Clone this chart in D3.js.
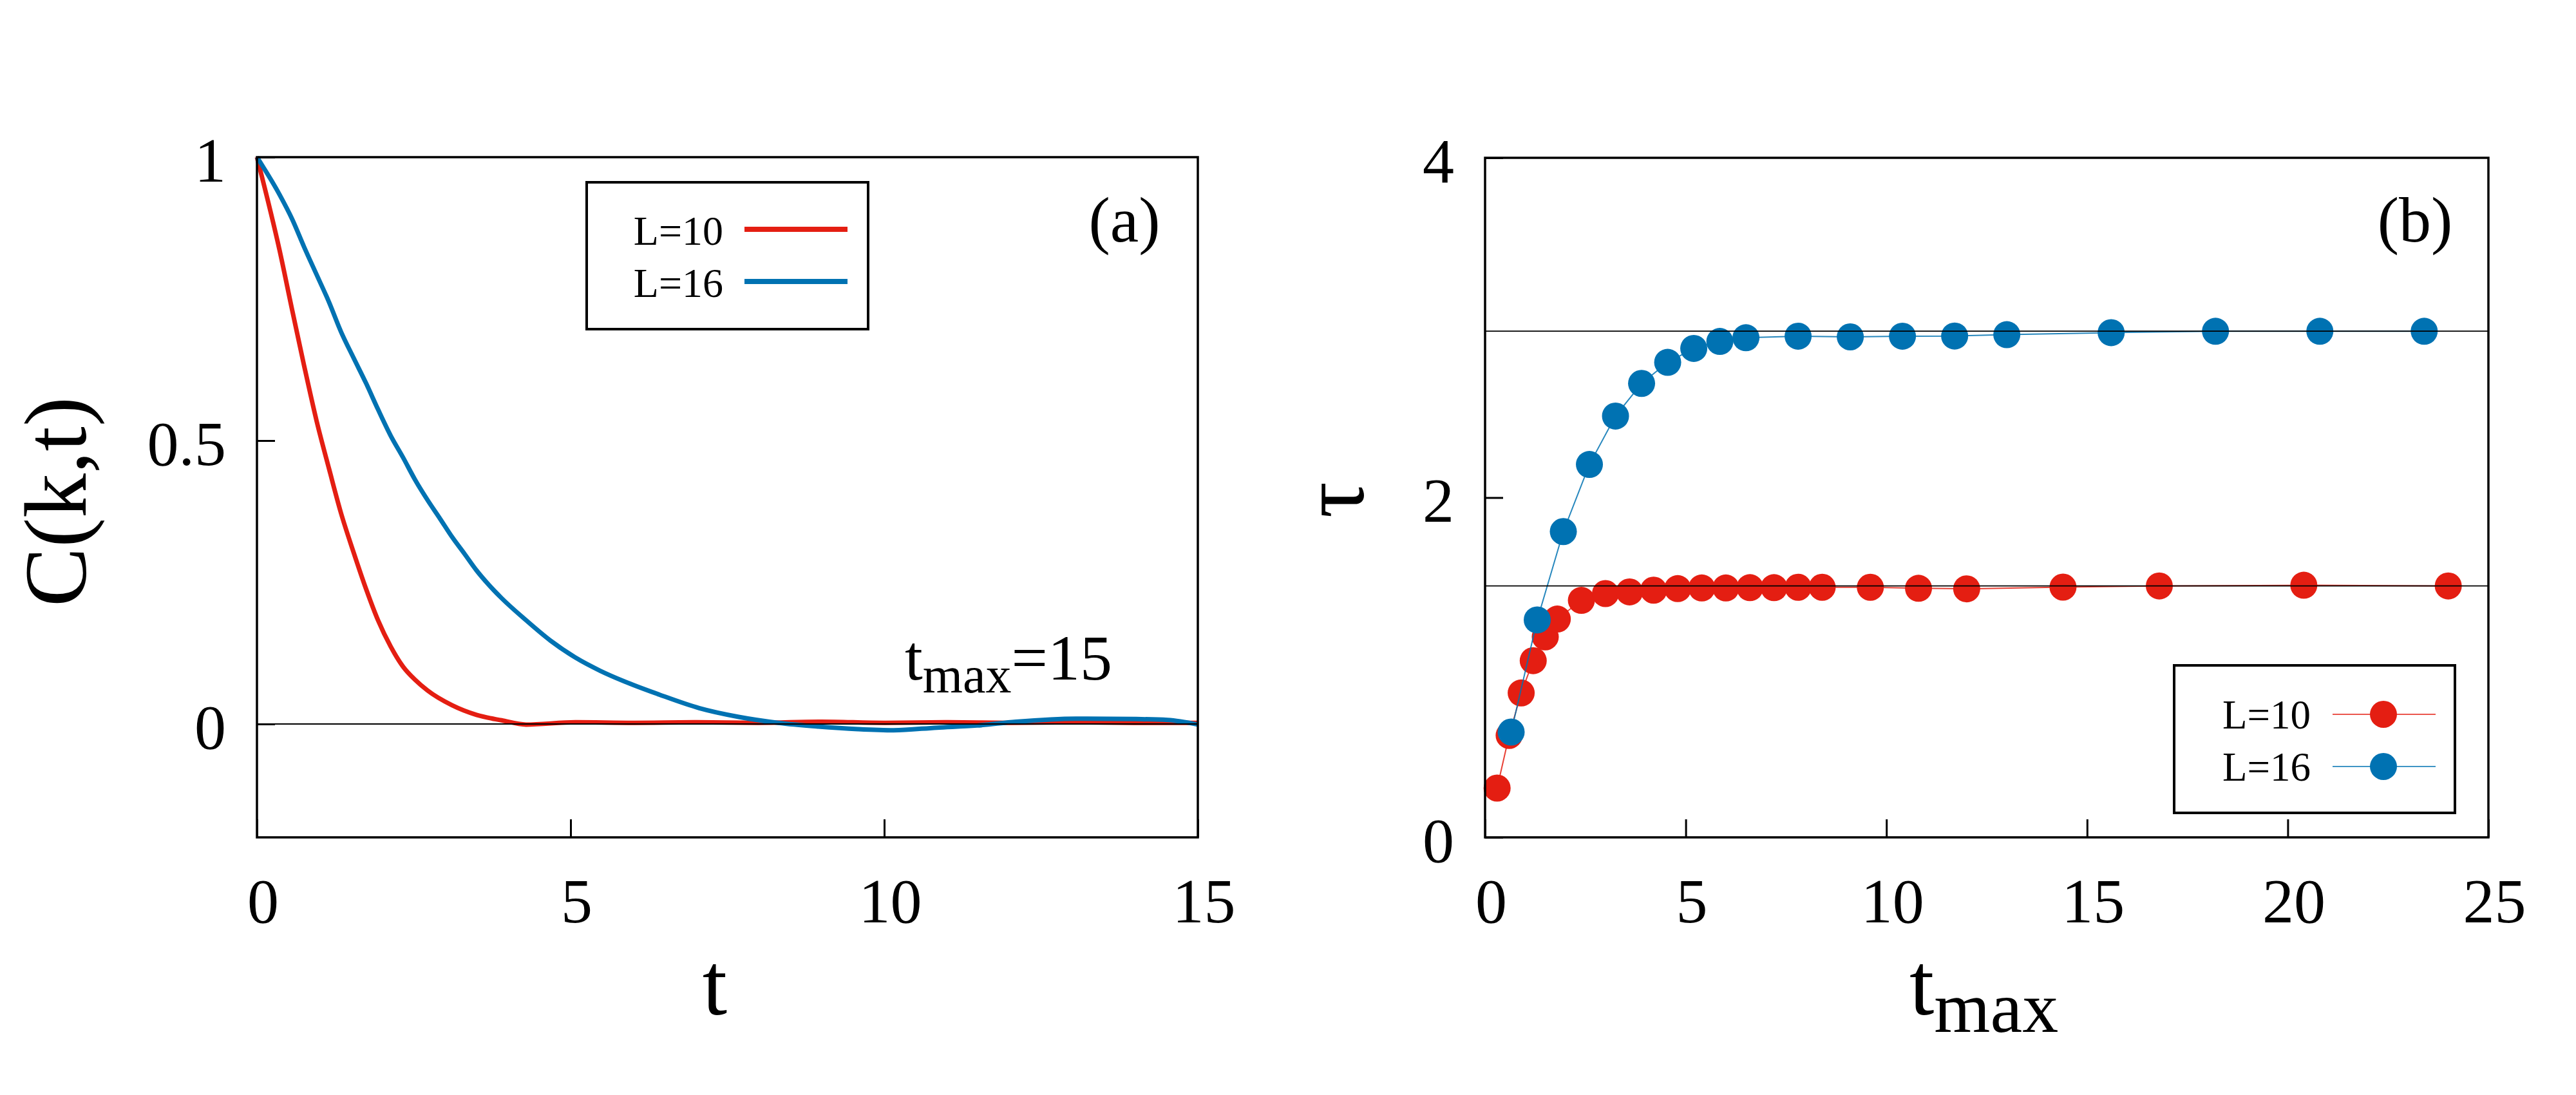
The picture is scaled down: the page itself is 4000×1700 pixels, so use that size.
<!DOCTYPE html>
<html>
<head>
<meta charset="utf-8">
<script src="https://cdn.jsdelivr.net/npm/d3@7"></script>
<style>
  html, body { margin: 0; padding: 0; background: #fff; }
  svg { display: block; }
  svg text { font-family: 'Liberation Serif', 'Times New Roman', serif !important; fill: #000; }
</style>
</head>
<body>
<svg id="chart" width="4000" height="1700" font-family="'Liberation Serif', serif"></svg>
<script>
// ---------------- DATA ----------------
const seriesNames = ["L=10", "L=16"];
const seriesColors = ["#e41e12", "#0072b2"];

// Panel (a): C(k,t) vs t
const tL10 = [0, 0.36, 0.56, 0.75, 0.95, 1.15, 1.34, 1.54, 1.74, 1.93, 2.13, 2.33, 2.52, 2.72, 3.11, 3.50, 3.90, 4.29, 5.08, 6.0, 7.0, 8.0, 9.0, 10.0, 11.0, 12.0, 13.0, 14.0, 15.0];
const cL10 = [1, 0.836, 0.731, 0.633, 0.535, 0.450, 0.372, 0.303, 0.238, 0.183, 0.137, 0.101, 0.078, 0.059, 0.033, 0.016, 0.0065, -0.001, 0.003, 0.002, 0.003, 0.002, 0.004, 0.002, 0.003, 0.002, 0.003, 0.002, 0.002];
const tL16 = [0, 0.36, 0.56, 0.75, 0.95, 1.15, 1.34, 1.54, 1.74, 1.93, 2.13, 2.33, 2.52, 2.72, 2.92, 3.11, 3.31, 3.50, 3.70, 3.90, 4.29, 4.68, 5.08, 5.47, 5.86, 6.41, 7.05, 7.68, 8.31, 8.95, 9.58, 10.15, 10.84, 11.48, 12.1, 13.06, 14.0, 14.52, 15.0];
const cL16 = [1, 0.934, 0.891, 0.842, 0.793, 0.744, 0.692, 0.646, 0.601, 0.555, 0.509, 0.470, 0.431, 0.395, 0.362, 0.330, 0.300, 0.271, 0.245, 0.222, 0.183, 0.147, 0.117, 0.094, 0.075, 0.052, 0.028, 0.0125, 0.002, -0.0045, -0.009, -0.011, -0.0064, -0.0027, 0.004, 0.0095, 0.0087, 0.007, -0.001];

// Panel (b): tau vs t_max
const tmaxL10 = [0.3, 0.6, 0.9, 1.2, 1.5, 1.8, 2.4, 3.0, 3.6, 4.2, 4.8, 5.4, 6.0, 6.6, 7.2, 7.8, 8.4, 9.6, 10.8, 12.0, 14.4, 16.8, 20.4, 24.0];
const tauL10  = [0.29, 0.60, 0.85, 1.04, 1.18, 1.285, 1.395, 1.435, 1.445, 1.455, 1.464, 1.468, 1.468, 1.470, 1.470, 1.472, 1.472, 1.472, 1.466, 1.463, 1.473, 1.480, 1.484, 1.480];
const tmaxL16 = [0.65, 1.3, 1.95, 2.6, 3.25, 3.9, 4.55, 5.2, 5.85, 6.5, 7.8, 9.1, 10.4, 11.7, 13.0, 15.6, 18.2, 20.8, 23.4];
const tauL16  = [0.62, 1.28, 1.80, 2.195, 2.48, 2.672, 2.796, 2.878, 2.919, 2.941, 2.950, 2.946, 2.950, 2.951, 2.959, 2.971, 2.979, 2.979, 2.979];
const tauInf = [1.48, 2.98];   // horizontal reference lines (L=10, L=16)

// Axes
const xDomainA = [0, 15], yDomainA = [-0.2, 1];
const xTicksA = [0, 5, 10, 15], yTicksA = [0, 0.5, 1];
const xDomainB = [0, 25], yDomainB = [0, 4];
const xTicksB = [0, 5, 10, 15, 20, 25], yTicksB = [0, 2, 4];

// ---------------- DRAW ----------------
const FONT = "'Liberation Serif', 'Times New Roman', serif";
const svg = d3.select("#chart");
svg.append("rect").attr("width", 4000).attr("height", 1700).attr("fill", "#fff");

const frameA = {x0: 399, x1: 1860, y0: 244, y1: 1300};
const frameB = {x0: 2306, x1: 3864, y0: 245, y1: 1300};

const xA = d3.scaleLinear().domain(xDomainA).range([frameA.x0, frameA.x1]);
const yA = d3.scaleLinear().domain(yDomainA).range([frameA.y1, frameA.y0]);
const xB = d3.scaleLinear().domain(xDomainB).range([frameB.x0, frameB.x1]);
const yB = d3.scaleLinear().domain(yDomainB).range([frameB.y1, frameB.y0]);

const tickFont = 98;

function drawAxes(x, y, frame, xt, yt) {
  const gx = svg.append("g").attr("transform", `translate(0,${frame.y1})`)
    .call(d3.axisBottom(x).tickValues(xt).tickSizeInner(-28).tickSizeOuter(0).tickFormat(d => String(d)));
  gx.attr("font-family", FONT).attr("font-size", tickFont);
  gx.select(".domain").remove();
  gx.selectAll(".tick line").attr("stroke", "#000").attr("stroke-width", 3);
  gx.selectAll(".tick text").attr("y", 132).attr("dy", null).attr("dx", 9)
    .attr("font-family", FONT).attr("font-size", tickFont).attr("fill", "#000");

  const gy = svg.append("g").attr("transform", `translate(${frame.x0},0)`)
    .call(d3.axisLeft(y).tickValues(yt).tickSizeInner(-28).tickSizeOuter(0).tickFormat(d => String(d)));
  gy.attr("font-family", FONT).attr("font-size", tickFont);
  gy.select(".domain").remove();
  gy.selectAll(".tick line").attr("stroke", "#000").attr("stroke-width", 3);
  gy.selectAll(".tick text").attr("x", -48).attr("dy", 37).attr("text-anchor", "end")
    .attr("font-family", FONT).attr("font-size", tickFont).attr("fill", "#000");
}

function drawFrame(frame) {
  svg.append("rect").attr("x", frame.x0).attr("y", frame.y0)
    .attr("width", frame.x1 - frame.x0).attr("height", frame.y1 - frame.y0)
    .attr("fill", "none").attr("stroke", "#000").attr("stroke-width", 3.5);
}

// ---- Panel (a) ----
drawAxes(xA, yA, frameA, xTicksA, yTicksA);
const lineA = d3.line().x(d => xA(d[0])).y(d => yA(d[1])).curve(d3.curveMonotoneX);
const seriesA = [d3.zip(tL10, cL10), d3.zip(tL16, cL16)];
seriesA.forEach((s, i) => {
  svg.append("path").datum(s).attr("d", lineA).attr("fill", "none")
    .attr("stroke", seriesColors[i]).attr("stroke-width", 7).attr("stroke-linejoin", "round");
});
// zero line
svg.append("line").attr("x1", xA(xDomainA[0])).attr("x2", xA(xDomainA[1]))
  .attr("y1", yA(0)).attr("y2", yA(0)).attr("stroke", "#000").attr("stroke-width", 1.8);
drawFrame(frameA);

// legend (a)
svg.append("rect").attr("x", 911).attr("y", 283).attr("width", 437).attr("height", 228)
  .attr("fill", "#fff").attr("stroke", "#000").attr("stroke-width", 4);
seriesNames.forEach((n, i) => {
  const yy = [356, 437][i];
  svg.append("text").attr("x", 1123).attr("y", yy + 24).attr("text-anchor", "end")
    .attr("font-size", 64).text(n);
  svg.append("line").attr("x1", 1156).attr("x2", 1316).attr("y1", yy).attr("y2", yy)
    .attr("stroke", seriesColors[i]).attr("stroke-width", 8);
});
svg.append("text").attr("x", 1746).attr("y", 375).attr("text-anchor", "middle")
  .attr("font-size", 100).text("(a)");
const tm = svg.append("text").attr("x", 1405).attr("y", 1055).attr("font-size", 100);
tm.append("tspan").text("t");
tm.append("tspan").attr("dy", 20).attr("font-size", 80).text("max");
tm.append("tspan").attr("dy", -20).text("=15");

// axis labels (a)
svg.append("text").attr("transform", "translate(133,779) rotate(-90)").attr("text-anchor", "middle")
  .attr("font-size", 138).text("C(k,t)");
svg.append("text").attr("x", 1110).attr("y", 1575).attr("text-anchor", "middle")
  .attr("font-size", 138).text("t");

// ---- Panel (b) ----
drawAxes(xB, yB, frameB, xTicksB, yTicksB);
const lineB = d3.line().x(d => xB(d[0])).y(d => yB(d[1]));
const seriesB = [d3.zip(tmaxL10, tauL10), d3.zip(tmaxL16, tauL16)];
seriesB.forEach((s, i) => {
  const g = svg.append("g");
  g.append("path").datum(s).attr("d", lineB).attr("fill", "none")
    .attr("stroke", seriesColors[i]).attr("stroke-width", 2).attr("stroke-opacity", 0.85);
  g.selectAll("circle").data(s).enter().append("circle")
    .attr("cx", d => xB(d[0])).attr("cy", d => yB(d[1])).attr("r", 21)
    .attr("fill", seriesColors[i]);
});
// reference lines
tauInf.forEach(v => {
  svg.append("line").attr("x1", xB(xDomainB[0])).attr("x2", xB(xDomainB[1]))
    .attr("y1", yB(v)).attr("y2", yB(v)).attr("stroke", "#000").attr("stroke-width", 1.8);
});
drawFrame(frameB);

// legend (b)
svg.append("rect").attr("x", 3376).attr("y", 1033).attr("width", 436).attr("height", 229)
  .attr("fill", "#fff").attr("stroke", "#000").attr("stroke-width", 4);
seriesNames.forEach((n, i) => {
  const yy = [1109, 1190][i];
  svg.append("text").attr("x", 3588).attr("y", yy + 22).attr("text-anchor", "end")
    .attr("font-size", 63).text(n);
  svg.append("line").attr("x1", 3622).attr("x2", 3782).attr("y1", yy).attr("y2", yy)
    .attr("stroke", seriesColors[i]).attr("stroke-width", 1.6);
  svg.append("circle").attr("cx", 3701).attr("cy", yy).attr("r", 21).attr("fill", seriesColors[i]);
});
svg.append("text").attr("x", 3750).attr("y", 375).attr("text-anchor", "middle")
  .attr("font-size", 100).text("(b)");

// axis labels (b)
svg.append("text").attr("transform", "translate(2117,776) rotate(-90)").attr("text-anchor", "middle")
  .attr("font-size", 140).text("τ");
const tb = svg.append("text").attr("x", 2965).attr("y", 1575).attr("font-size", 138);
tb.append("tspan").text("t");
tb.append("tspan").attr("dy", 27).attr("font-size", 112).text("max");
</script>
</body>
</html>
